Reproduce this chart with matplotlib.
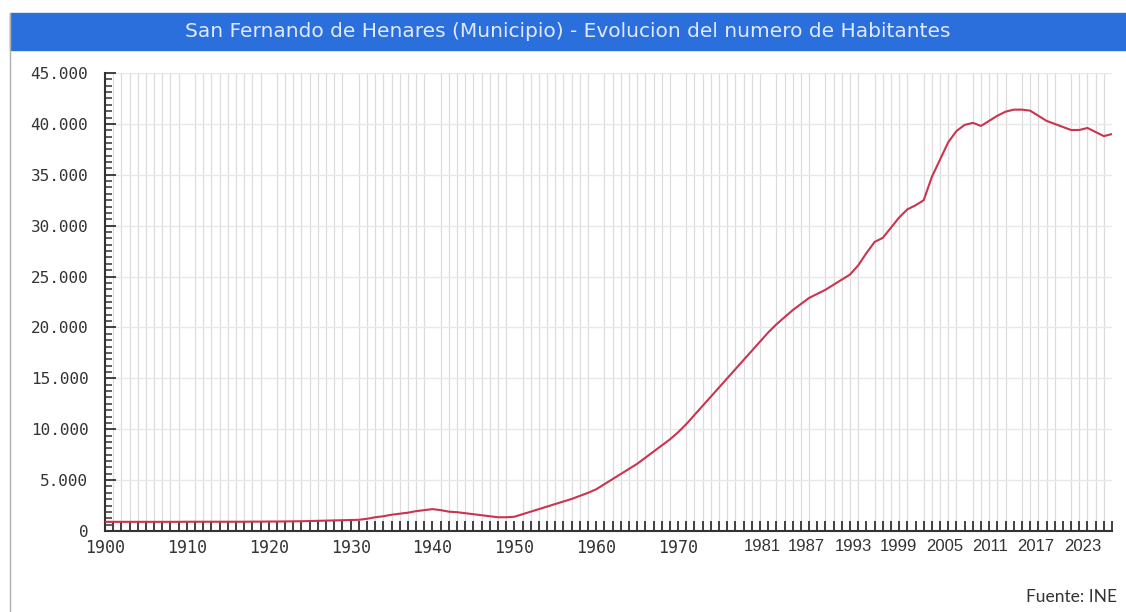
import numpy as np
import matplotlib.pyplot as plt
import matplotlib.transforms as mtransforms
from matplotlib.patches import Rectangle
from matplotlib.lines import Line2D
from matplotlib.ticker import FuncFormatter, MultipleLocator

# datos (habitantes por año)
anios = list(range(1900, 2024))
habitantes = [
    900, 900, 900, 900, 900, 900, 900, 900, 900, 900,          # 1900-1909
    910, 910, 910, 910, 910, 910, 910, 910, 920, 920,          # 1910-1919
    930, 930, 940, 950, 960, 980, 1000, 1020, 1040, 1060,      # 1920-1929
    1080, 1100, 1200, 1350, 1450, 1600, 1700, 1800, 1950, 2050,  # 1930-1939
    2150, 2050, 1900, 1850, 1750, 1650, 1550, 1450, 1350, 1350,  # 1940-1949
    1400, 1650, 1900, 2150, 2400, 2650, 2900, 3150, 3450, 3750,  # 1950-1959
    4100, 4600, 5100, 5600, 6100, 6600, 7200, 7800, 8400, 9000,  # 1960-1969
    9700, 10500, 11400, 12300, 13200, 14100, 15000, 15900, 16800, 17700,  # 1970-1979
    18600, 19500, 20300, 21000, 21700, 22300, 22900, 23300, 23700, 24200,  # 1980-1989
    24700, 25200, 26100, 27300, 28400, 28800, 29800, 30800, 31600, 32000,  # 1990-1999
    32500, 34800, 36500, 38200, 39300, 39900, 40100, 39800, 40300, 40800,  # 2000-2009
    41200, 41400, 41400, 41300, 40800, 40300, 40000, 39700, 39400, 39400,  # 2010-2019
    39600, 39200, 38800, 39000,                                # 2020-2023
]
etiquetas_x = [1900, 1910, 1920, 1930, 1940, 1950, 1960, 1970,
               1981, 1987, 1993, 1999, 2005, 2011, 2017, 2023]
# desplazamiento (px) de las etiquetas, como en el original
desplaz_x = [0, 0, 0, 0, 0, 0, 0, 0, -6, -11, -13, -17, -20, -24, -27, -29]

W, H = 1126, 612
fig = plt.figure(figsize=(W / 100, H / 100), dpi=100)

# banda del titulo
fig.patches.append(Rectangle((10 / W, 1 - 50 / H), 1 - 10 / W, 37 / H,
                             transform=fig.transFigure, color='#2b6fdc', zorder=0))
fig.text((10 + W) / 2 / W, 1 - 31.5 / H,
         'San Fernando de Henares (Municipio) - Evolucion del numero de Habitantes',
         ha='center', va='center', color='#dfe9ff', fontsize=14.5, family='DejaVu Sans')
# borde izquierdo
fig.lines.append(Line2D([10 / W, 10 / W], [0, 1 - 13 / H], transform=fig.transFigure,
                        color='#b0b0b0', lw=1))

ax = fig.add_axes([105 / W, 81 / H, 1007 / W, 458 / H])
ax.plot(anios, habitantes, color='#c93450', lw=1.5, zorder=3)
ax.set_xlim(1900, 2023)
ax.set_ylim(0, 45000)

# rejilla
ax.xaxis.set_minor_locator(MultipleLocator(1))
ax.grid(axis='x', which='minor', color='#dcdcdc', lw=0.9)
ax.set_yticks(range(0, 45001, 5000))
ax.yaxis.set_minor_locator(MultipleLocator(625))
ax.grid(axis='y', which='major', color='#e8e8e8', lw=1)
ax.set_axisbelow(True)

# etiquetas del eje x como textos (para poder desplazarlas)
ax.set_xticks(etiquetas_x)
ax.set_xticklabels([])
trans_x = ax.get_xaxis_transform()
for a, dx in zip(etiquetas_x, desplaz_x):
    t = mtransforms.offset_copy(trans_x, fig=fig, x=dx, y=-8, units='dots')
    if a <= 1970:
        ax.text(a, 0, str(a), transform=t, ha='center', va='top',
                family='DejaVu Sans Mono', fontsize=12, color='#333333')
    else:
        ax.text(a, 0, str(a), transform=t, ha='center', va='top',
                family='Liberation Sans', fontsize=12, color='#333333')

ax.yaxis.set_major_formatter(FuncFormatter(lambda v, p: f'{int(v):,}'.replace(',', '.')))
for lbl in ax.get_yticklabels():
    lbl.set_family('DejaVu Sans Mono')
    lbl.set_fontsize(11.5)

ax.tick_params(axis='x', which='both', direction='in', length=7, width=1.3,
               color='#333333')
ax.tick_params(axis='y', which='major', direction='in', length=8, width=1.3,
               color='#333333', labelcolor='#333333', pad=12)
ax.tick_params(axis='y', which='minor', direction='in', length=5, width=1.1,
               color='#333333')

for s in ['top', 'right']:
    ax.spines[s].set_visible(False)
ax.spines['left'].set_color('#333333')
ax.spines['bottom'].set_color('#333333')
ax.spines['left'].set_linewidth(1.5)
ax.spines['bottom'].set_linewidth(1.5)

fig.text(1117 / W, 1 - 597 / H, 'Fuente: INE', ha='right', va='center',
         fontsize=12.5, family='Lato', color='#333333')

fig.savefig('out.png', dpi=100)
